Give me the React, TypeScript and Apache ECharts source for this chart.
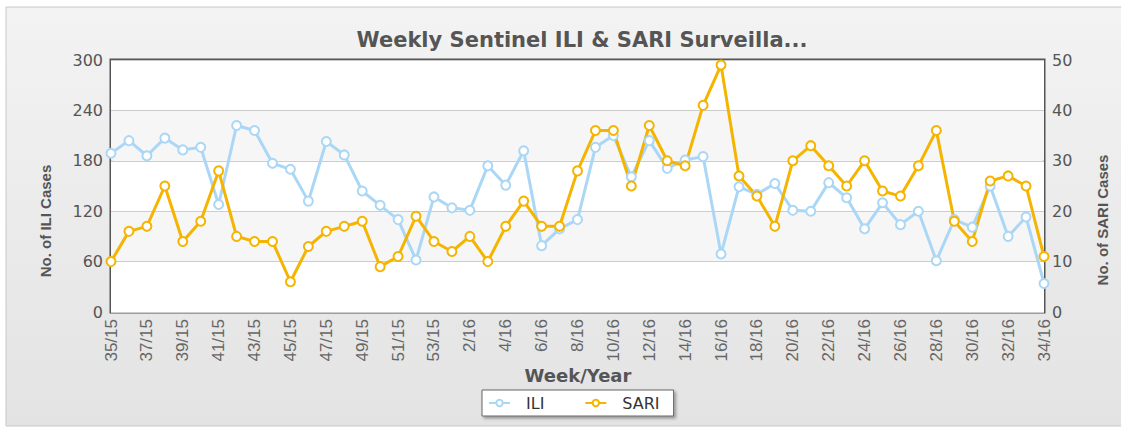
import React, { useEffect, useRef } from "react";
import * as echarts from "echarts";

const weeks = [
  "35/15", "36/15", "37/15", "38/15", "39/15", "40/15", "41/15", "42/15", "43/15", "44/15",
  "45/15", "46/15", "47/15", "48/15", "49/15", "50/15", "51/15", "52/15", "53/15",
  "1/16", "2/16", "3/16", "4/16", "5/16", "6/16", "7/16", "8/16", "9/16", "10/16",
  "11/16", "12/16", "13/16", "14/16", "15/16", "16/16", "17/16", "18/16", "19/16", "20/16",
  "21/16", "22/16", "23/16", "24/16", "25/16", "26/16", "27/16", "28/16", "29/16", "30/16",
  "31/16", "32/16", "33/16", "34/16",
];

const iliCases = [
  189, 204, 186, 207, 193, 196, 128, 222, 216, 177, 170, 132, 203, 187, 144, 127, 110, 62, 137,
  124, 121, 174, 151, 192, 79, 99, 110, 196, 210, 161, 204, 171, 181, 185, 69, 149, 140,
  153, 121, 120, 154, 136, 99, 130, 104, 120, 61, 110, 101, 150, 90, 113, 34,
];

const sariCases = [
  10, 16, 17, 25, 14, 18, 28, 15, 14, 14, 6, 13, 16, 17, 18, 9, 11, 19, 14,
  12, 15, 10, 17, 22, 17, 17, 28, 36, 36, 25, 37, 30, 29, 41, 49, 27, 23,
  17, 30, 33, 29, 25, 30, 24, 23, 29, 36, 18, 14, 26, 27, 25, 11,
];

const iliTicks = { min: 0, max: 300, interval: 60 };
const sariTicks = { min: 0, max: 50, interval: 10 };

const titleText = "Weekly Sentinel ILI & SARI Surveilla...";
const iliName = "No. of ILI Cases";
const sariName = "No. of SARI Cases";
const xName = "Week/Year";

export default function App() {
  const ref = useRef<HTMLDivElement>(null);

  useEffect(() => {
    document.body.style.margin = "0";
    if (!ref.current) return;
    const chart = echarts.init(ref.current, null, { renderer: "svg" });
    const narrow = "'Liberation Sans Narrow', 'Liberation Sans', sans-serif";
    const sans = "'DejaVu Sans', Verdana, sans-serif";
    chart.setOption({
      animation: false,
      backgroundColor: "#ffffff",
      title: {
        text: titleText,
        left: 577,
        textAlign: "center",
        top: 24,
        textStyle: { fontFamily: sans, fontSize: 21, fontWeight: "bold", color: "#555" },
      },
      graphic: [
        {
          type: "rect",
          z: -100,
          silent: true,
          shape: { x: 6, y: 7, width: 1120, height: 419 },
          style: {
            fill: new echarts.graphic.LinearGradient(0, 0, 0, 1, [
              { offset: 0, color: "#f3f3f3" },
              { offset: 1, color: "#e3e3e3" },
            ]),
            stroke: "#c8c8c8",
            lineWidth: 1,
          },
        },
        {
          type: "text",
          x: 45,
          y: 221,
          rotation: Math.PI / 2,
          style: {
            text: iliName,
            fontFamily: narrow,
            fontWeight: "bold",
            fontSize: 15,
            fill: "#555",
            textAlign: "center",
            textVerticalAlign: "middle",
          },
        },
        {
          type: "text",
          x: 1102,
          y: 220,
          rotation: Math.PI / 2,
          style: {
            text: sariName,
            fontFamily: narrow,
            fontWeight: "bold",
            fontSize: 15,
            fill: "#555",
            textAlign: "center",
            textVerticalAlign: "middle",
          },
        },
        {
          type: "text",
          x: 578,
          y: 375,
          style: {
            text: xName,
            fontFamily: sans,
            fontWeight: "bold",
            fontSize: 18,
            fill: "#555",
            textAlign: "center",
            textVerticalAlign: "middle",
          },
        },
      ],
      legend: {
        left: 482,
        top: 390,
        orient: "horizontal",
        padding: [5, 14, 5, 6],
        itemGap: 40,
        itemWidth: 21,
        itemHeight: 8,
        backgroundColor: "#ffffff",
        borderColor: "#666",
        borderWidth: 1,
        borderRadius: 0,
        shadowBlur: 3,
        shadowOffsetX: 2,
        shadowOffsetY: 2,
        shadowColor: "rgba(0,0,0,0.35)",
        textStyle: { fontFamily: sans, fontSize: 16, color: "#333", padding: [0, 0, 0, 11] },
        data: ["ILI", "SARI"],
      },
      grid: {
        left: 111,
        right: 77,
        top: 60,
        bottom: 117,
        show: true,
        backgroundColor: "#ffffff",
        borderColor: "#555",
        borderWidth: 3,
        containLabel: false,
      },
      xAxis: {
        type: "category",
        data: weeks,
        boundaryGap: false,
        axisLine: { show: false },
        axisTick: { show: false },
        splitLine: { show: false },
        axisLabel: {
          interval: 1,
          rotate: 90,
          margin: 7,
          fontFamily: narrow,
          fontSize: 17,
          color: "#666",
        },
      },
      yAxis: [
        {
          type: "value",
          min: iliTicks.min,
          max: iliTicks.max,
          interval: iliTicks.interval,
          axisLine: { show: false },
          axisTick: { show: false },
          axisLabel: { margin: 8, fontFamily: sans, fontSize: 16, color: "#555" },
          splitLine: { show: true, lineStyle: { color: "#cccccc", width: 1 } },
          splitArea: { show: true, areaStyle: { color: ["#ffffff", "#f6f6f6"] } },
        },
        {
          type: "value",
          min: sariTicks.min,
          max: sariTicks.max,
          interval: sariTicks.interval,
          position: "right",
          axisLine: { show: false },
          axisTick: { show: false },
          axisLabel: { margin: 8, fontFamily: sans, fontSize: 16, color: "#555" },
          splitLine: { show: false },
        },
      ],
      series: [
        {
          name: "ILI",
          type: "line",
          yAxisIndex: 0,
          data: iliCases,
          symbol: "emptyCircle",
          symbolSize: 9,
          showAllSymbol: true,
          color: "#abd7f6",
          lineStyle: { width: 3, color: "#abd7f6" },
          itemStyle: { color: "#abd7f6", borderWidth: 2 },
        },
        {
          name: "SARI",
          type: "line",
          yAxisIndex: 1,
          data: sariCases,
          symbol: "emptyCircle",
          symbolSize: 9,
          showAllSymbol: true,
          color: "#f5b400",
          lineStyle: { width: 3, color: "#f5b400" },
          itemStyle: { color: "#f5b400", borderWidth: 2 },
        },
      ],
    });
    return () => chart.dispose();
  }, []);

  return <div ref={ref} style={{ width: 1121, height: 429 }} />;
}
